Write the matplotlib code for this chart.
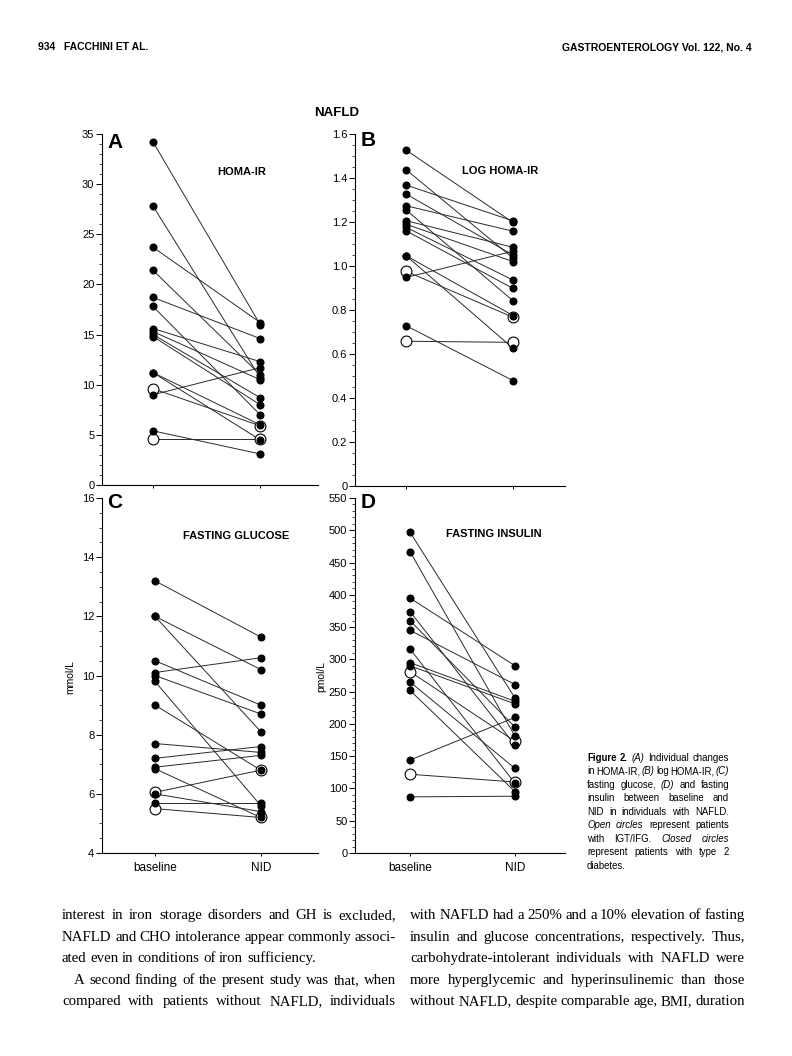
import matplotlib
matplotlib.use("Agg")
import matplotlib.pyplot as plt
from matplotlib.ticker import MultipleLocator, FuncFormatter


# ----------------------------
# Data
# ----------------------------

# A: HOMA-IR, one entry per patient (baseline -> NID)
homa_base = [34.2, 27.8, 23.7, 21.4, 18.7, 17.8, 15.6, 15.3, 15.0, 14.8, 11.2, 11.2, 9.6, 9.0, 5.4, 4.6]
homa_nid  = [16.0, 10.7, 16.2, 11.0, 14.6, 7.0, 12.3, 10.5, 8.7, 8.0, 6.0, 4.5, 5.9, 11.7, 3.1, 4.6]
homa_open = [0, 0, 0, 0, 0, 0, 0, 0, 0, 0, 0, 0, 1, 0, 0, 1]

# B: log HOMA-IR
log_base = [1.527, 1.438, 1.368, 1.327, 1.274, 1.255, 1.206, 1.190, 1.176, 1.160, 1.047, 1.047, 0.976, 0.948, 0.729, 0.658]
log_nid  = [1.198, 1.036, 1.205, 1.050, 1.158, 0.842, 1.085, 1.020, 0.936, 0.898, 0.775, 0.626, 0.767, 1.067, 0.479, 0.653]
log_open = [0, 0, 0, 0, 0, 0, 0, 0, 0, 0, 0, 0, 1, 0, 0, 1]

# C: fasting glucose (mmol/L)
glu_base = [13.2, 12.0, 12.0, 10.5, 10.1, 10.0, 9.8, 9.0, 7.7, 7.2, 6.9, 6.85, 6.05, 6.0, 5.7, 5.5]
glu_nid  = [11.3, 10.2, 8.1, 9.0, 10.6, 8.7, 5.6, 6.8, 7.4, 7.6, 7.3, 5.2, 6.8, 5.4, 5.7, 5.2]
glu_open = [0, 0, 0, 0, 0, 0, 0, 0, 0, 0, 0, 0, 1, 0, 0, 1]

# D: fasting insulin (pmol/L)
ins_base = [497, 467, 395, 374, 360, 345, 316, 295, 290, 281, 265, 252, 144, 122, 87]
ins_nid  = [240, 181, 290, 167, 195, 261, 108, 235, 231, 173, 131, 95, 210, 110, 88]
ins_open = [0, 0, 0, 0, 0, 0, 0, 0, 0, 1, 0, 0, 0, 1, 0]

timepoints = ["baseline", "NID"]


# ----------------------------
# Page setup
# ----------------------------

W, H = 792, 1056
plt.rcParams["font.family"] = ["Liberation Sans", "DejaVu Sans"]
fig = plt.figure(figsize=(W / 100, H / 100), dpi=100)
fig.patch.set_facecolor("white")


def box(x0, y0, x1, y1):
    return [x0 / W, 1 - y1 / H, (x1 - x0) / W, (y1 - y0) / H]


def ftext(x, y, s, **kw):
    return fig.text(x / W, 1 - y / H, s, **kw)


def int_fmt(v, pos):
    return f"{int(round(v))}"


def dec_fmt(v, pos):
    return "0" if abs(v) < 1e-9 else f"{v:.1f}"


def draw_panel(ax, base, nid, is_open, ylim, major, minor, xlim, fmt, xlabels):
    for b, n in zip(base, nid):
        ax.plot([0, 1], [b, n], color="#2a2a2a", lw=0.7, zorder=1)
    for x, vals in ((0, base), (1, nid)):
        ov = [v for v, o in zip(vals, is_open) if o]
        fv = [v for v, o in zip(vals, is_open) if not o]
        ax.plot([x] * len(ov), ov, "o", ms=7.8, mfc="white", mec="black",
                mew=0.8, zorder=2, clip_on=False)
        ax.plot([x] * len(fv), fv, "o", ms=4.8, color="black", zorder=3,
                clip_on=False)

    ax.set_xlim(*xlim)
    ax.set_ylim(*ylim)
    ax.yaxis.set_major_locator(MultipleLocator(major))
    ax.yaxis.set_minor_locator(MultipleLocator(minor))
    ax.yaxis.set_major_formatter(FuncFormatter(fmt))
    ax.set_xticks([0, 1])
    ax.set_xticklabels(timepoints if xlabels else ["", ""])
    for s in ("top", "right"):
        ax.spines[s].set_visible(False)
    for s in ("left", "bottom"):
        ax.spines[s].set_linewidth(0.8)
    ax.tick_params(axis="y", which="major", direction="out", length=4,
                   width=0.7, labelsize=8, pad=1.5)
    ax.tick_params(axis="y", which="minor", direction="out", length=2, width=0.5)
    ax.tick_params(axis="x", direction="out", length=2.5, width=0.7,
                   labelsize=8.5, pad=4)
    ax.set_facecolor("none")


# ----------------------------
# Panels
# ----------------------------

axA = fig.add_axes(box(102, 134, 318, 485))
draw_panel(axA, homa_base, homa_nid, homa_open, (0, 35), 5, 1,
           (-0.477, 1.54), int_fmt, False)

axB = fig.add_axes(box(355, 134, 565, 486))
draw_panel(axB, log_base, log_nid, log_open, (0, 1.6), 0.2, 0.05,
           (-0.477, 1.486), dec_fmt, False)

axC = fig.add_axes(box(102, 498, 318, 853))
draw_panel(axC, glu_base, glu_nid, glu_open, (4, 16), 2, 0.5,
           (-0.5, 1.54), int_fmt, True)

axD = fig.add_axes(box(355, 498, 565, 853))
draw_panel(axD, ins_base, ins_nid, ins_open, (0, 550), 50, 10,
           (-0.524, 1.476), int_fmt, True)

# panel letters and titles
for x, y, s in ((107, 142, "A"), (361, 141, "B"), (107, 503, "C"), (361, 503, "D")):
    ftext(x, y, s, fontsize=15, fontweight="bold", ha="left", va="center")

ftext(242, 172, "HOMA-IR", fontsize=8, fontweight="bold", ha="center", va="center")
ftext(500, 171, "LOG HOMA-IR", fontsize=8, fontweight="bold", ha="center", va="center")
ftext(236, 536, "FASTING GLUCOSE", fontsize=8, fontweight="bold", ha="center", va="center")
ftext(494, 534, "FASTING INSULIN", fontsize=8, fontweight="bold", ha="center", va="center")
ftext(337, 113, "NAFLD", fontsize=9.5, fontweight="bold", ha="center", va="center")

ftext(70, 677, "mmol/L", fontsize=7.5, rotation=90, ha="center", va="center")
ftext(321, 677, "pmol/L", fontsize=7.5, rotation=90, ha="center", va="center")


# ----------------------------
# Running head
# ----------------------------

head_font = ["Liberation Sans Narrow", "Liberation Sans", "DejaVu Sans"]
ftext(38, 47, "934   FACCHINI ET AL.", fontsize=7.5, fontweight="bold",
      family=head_font, ha="left", va="center")
ftext(752, 47, "GASTROENTEROLOGY Vol. 122, No. 4", fontsize=7.5, fontweight="bold",
      family=head_font, ha="right", va="center")


# ----------------------------
# Justified text blocks
# ----------------------------

renderer = fig.canvas.get_renderer()


def set_line(x0, x1, y, line, size, family, justify=True):
    items = []
    for w in line.split(" "):
        kw = {}
        if w.startswith("*") and w.endswith("*"):
            w, kw = w[1:-1], {"fontweight": "bold"}
        elif w.startswith("_") and w.endswith("_"):
            w, kw = w[1:-1], {"fontstyle": "italic"}
        t = ftext(x0, y, w, fontsize=size, family=family, ha="left",
                  va="baseline", **kw)
        items.append(t)
    widths = [t.get_window_extent(renderer).width for t in items]
    space = size * 100 / 72 * 0.25
    if justify and len(items) > 1:
        space = max((x1 - x0 - sum(widths)) / (len(items) - 1), 1.5)
    x = x0
    for t, w in zip(items, widths):
        t.set_x(x / W)
        x += w + space


caption = [
    "*Figure* *2.* _(A)_ Individual changes",
    "in HOMA-IR, _(B)_ log HOMA-IR, _(C)_",
    "fasting glucose, _(D)_ and fasting",
    "insulin between baseline and",
    "NID in individuals with NAFLD.",
    "_Open_ _circles_ represent patients",
    "with IGT/IFG. _Closed_ _circles_",
    "represent patients with type 2",
    "diabetes.",
]
for i, line in enumerate(caption):
    set_line(587, 729, 761 + i * 13.45, line, 6.9, ["Liberation Sans", "DejaVu Sans"],
             justify=i < len(caption) - 1)

left_col = [
    ("interest in iron storage disorders and GH is excluded,", 0, True),
    ("NAFLD and CHO intolerance appear commonly associ-", 0, True),
    ("ated even in conditions of iron sufficiency.", 0, False),
    ("A second finding of the present study was that, when", 12, True),
    ("compared with patients without NAFLD, individuals", 0, True),
]
right_col = [
    "with NAFLD had a 250% and a 10% elevation of fasting",
    "insulin and glucose concentrations, respectively. Thus,",
    "carbohydrate-intolerant individuals with NAFLD were",
    "more hyperglycemic and hyperinsulinemic than those",
    "without NAFLD, despite comparable age, BMI, duration",
]
serif = ["Liberation Serif", "DejaVu Serif"]
for i, (line, indent, just) in enumerate(left_col):
    set_line(62 + indent, 396, 919 + i * 21.6, line, 10.7, serif, justify=just)
for i, line in enumerate(right_col):
    set_line(410, 745, 919 + i * 21.6, line, 10.7, serif, justify=True)

fig.savefig("out.png", dpi=100, facecolor="white")
plt.close(fig)
